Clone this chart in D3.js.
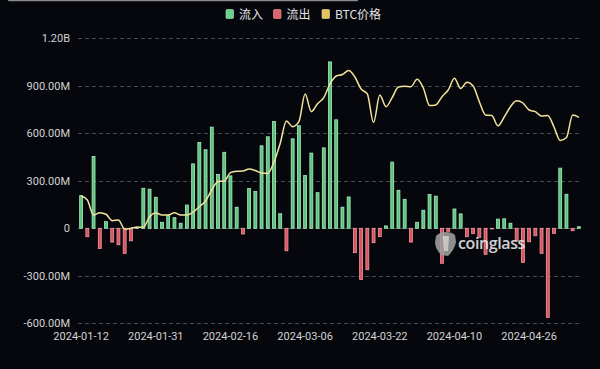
<!DOCTYPE html>
<html><head><meta charset="utf-8">
<script src="https://cdn.jsdelivr.net/npm/d3@7/dist/d3.min.js"></script>
<style>
html,body{margin:0;padding:0;background:#06070c;}
svg{display:block;}
</style></head>
<body>
<svg id="chart" width="600" height="369"></svg>
<script>
const dates = [
"2024-01-12","2024-01-16","2024-01-17","2024-01-18","2024-01-19","2024-01-22","2024-01-23","2024-01-24","2024-01-25","2024-01-26",
"2024-01-29","2024-01-30","2024-01-31","2024-02-01","2024-02-02","2024-02-05","2024-02-06","2024-02-07","2024-02-08","2024-02-09",
"2024-02-12","2024-02-13","2024-02-14","2024-02-15","2024-02-16","2024-02-20","2024-02-21","2024-02-22","2024-02-23","2024-02-26",
"2024-02-27","2024-02-28","2024-02-29","2024-03-01","2024-03-04","2024-03-05","2024-03-06","2024-03-07","2024-03-08","2024-03-11",
"2024-03-12","2024-03-13","2024-03-14","2024-03-15","2024-03-18","2024-03-19","2024-03-20","2024-03-21","2024-03-22","2024-03-25",
"2024-03-26","2024-03-27","2024-03-28","2024-04-01","2024-04-02","2024-04-03","2024-04-04","2024-04-05","2024-04-08","2024-04-09",
"2024-04-10","2024-04-11","2024-04-12","2024-04-15","2024-04-16","2024-04-17","2024-04-18","2024-04-19","2024-04-22","2024-04-23",
"2024-04-24","2024-04-25","2024-04-26","2024-04-29","2024-04-30","2024-05-01","2024-05-02","2024-05-03","2024-05-06","2024-05-07",
"2024-05-08"];

// daily net flow, millions USD (positive = 流入, negative = 流出)
const netFlow = [
206,-53,453,-127,42,-87,-104,-158,-79,3,
253,247,196,38,80,67,32,147,407,542,
496,639,340,480,331,133,-36,251,232,521,
578,675,92,-142,565,648,333,475,225,508,
1051,685,133,198,-154,-323,-262,-91,-53,15,
418,240,183,-87,38,114,213,203,-221,-19,
122,91,-53,-34,-58,-164,-4,58,60,32,
-80,-215,-85,-47,-158,-563,-32,380,215,-15,
10];

// BTC price, USD
const btcPrice = [
46860,45960,42800,43290,42950,41600,41750,39850,40000,40270,
40210,42440,43220,42800,42800,43290,42800,42800,43430,44550,
45750,48060,49850,49960,51710,52000,52060,52480,52170,51640,
51540,53960,57900,62590,61390,62440,68280,64550,66230,67500,
70380,72060,72380,73220,71850,69330,68280,62270,68060,65600,
67540,69750,69900,69810,71370,69540,65850,65960,67710,69120,
71580,69430,70740,69960,66650,63850,63750,61540,63430,65600,
66860,66380,64900,64550,63640,63750,61330,58480,59120,63850,
63370];

const flowTicks = [-600, -300, 0, 300, 600, 900, 1200];
const flowTickLabels = ["-600.00M","-300.00M","0","300.00M","600.00M","900.00M","1.20B"];
const legendLabels = ["流入","流出","BTC价格"];

const svg = d3.select("#chart");
const L = 78, R = 582, T = 38.3, B = 323.3;

const x = d3.scaleBand().domain(dates).range([L, R]).paddingInner(0.4).paddingOuter(0.2);
const y = d3.scaleLinear().domain([-600, 1200]).range([B, T]);
const yP = d3.scaleLinear().domain([20000, 80000]).range([B, T]);

// top gray strip
svg.append("rect").attr("x", 8).attr("y", -1).attr("width", 350).attr("height", 2.2)
  .attr("rx", 1).attr("fill", "#8a8a8a");

// gridlines
svg.append("g").selectAll("line").data(flowTicks).join("line")
  .attr("x1", L).attr("x2", R)
  .attr("y1", d => Math.round(y(d)) + 0.5).attr("y2", d => Math.round(y(d)) + 0.5)
  .attr("stroke", "#4a4b50").attr("stroke-width", 1).attr("stroke-dasharray", "4,3");

// y axis labels
const yAxis = svg.append("g").attr("transform", `translate(${L},0)`)
  .call(d3.axisLeft(y).tickValues(flowTicks).tickSize(0).tickPadding(8)
    .tickFormat((d, i) => flowTickLabels[i]));
yAxis.select(".domain").remove();
yAxis.selectAll("text").attr("fill", "#d2d2d2").style("font", "11px Roboto");

// x axis labels
const xAxis = svg.append("g").attr("transform", `translate(0,${B})`)
  .call(d3.axisBottom(x).tickValues(dates.filter((d, i) => i % 12 === 0)).tickSize(0).tickPadding(9));
xAxis.select(".domain").remove();
xAxis.selectAll("text").attr("fill", "#d2d2d2").style("font", "11px Roboto");

// bars
const bw = x.bandwidth();
svg.append("g").selectAll("rect").data(dates.map((d, i) => ({d, v: netFlow[i]}))).join("rect")
  .attr("x", d => x(d.d) + 0.4)
  .attr("width", bw - 0.8)
  .attr("y", d => d.v >= 0 ? y(d.v) : y(0))
  .attr("height", d => Math.max(0.6, Math.abs(y(d.v) - y(0))))
  .attr("fill", d => d.v >= 0 ? "#5ec07d" : "#d9535f")
  .attr("stroke", d => d.v >= 0 ? "#a6f0bd" : "#f39aa2")
  .attr("stroke-width", 0.8);

// watermark
const wm = svg.append("g").attr("opacity", 0.9);
wm.append("path")
  .attr("d", "M436,236 C440,231 451,231 455,235 L456,242 C455,248 451,253 448,256 L441,255 C437,251 435,246 435,242 Z")
  .attr("fill", "#9d9d9d");
wm.append("path").attr("d", "M443,236 L449,236 L448,251 L444,251 Z").attr("fill", "#dadada");
wm.append("text").attr("x", 458).attr("y", 249).text("coinglass")
  .attr("fill", "#e6e6e6").style("font", "600 16px 'Open Sans'").style("letter-spacing", "-0.4px");

// price line
const line = d3.line()
  .x((d, i) => x(dates[i]) + bw / 2)
  .y(d => yP(d))
  .curve(d3.curveMonotoneX);
svg.append("path").datum(btcPrice).attr("d", line)
  .attr("fill", "none").attr("stroke", "#f3e39a").attr("stroke-width", 1.5);

// legend
const legendColors = [["#6fcf8c", "#a6f0bd"], ["#e0626b", "#f39aa2"], ["#e3c262", "#f3de92"]];
const legendX = [226, 273.5, 322];
const lg = svg.append("g");
legendLabels.forEach((t, i) => {
  lg.append("rect").attr("x", legendX[i]).attr("y", 9.5).attr("width", 7.5).attr("height", 9)
    .attr("rx", 1).attr("fill", legendColors[i][0]).attr("stroke", legendColors[i][1]).attr("stroke-width", 0.6);
  lg.append("text").attr("x", legendX[i] + 13).attr("y", 18.5).text(t)
    .attr("fill", "#e2e2e2").style("font", "12px 'Noto Sans CJK SC', Roboto");
});
</script>
</body></html>
